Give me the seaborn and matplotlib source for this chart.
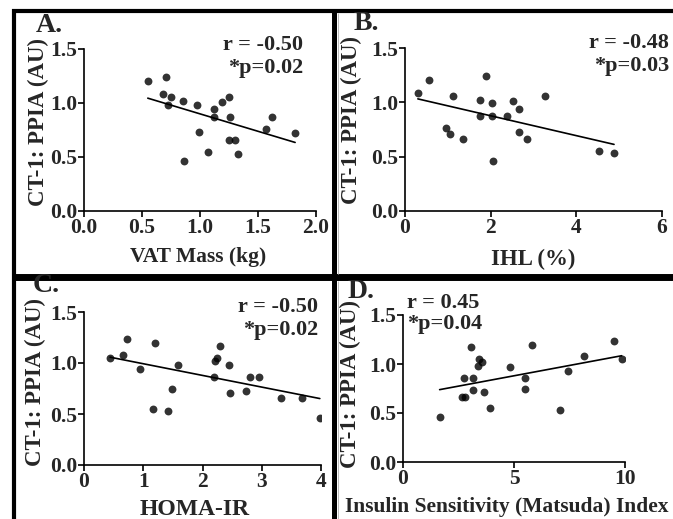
import matplotlib
matplotlib.use("Agg")
import matplotlib.pyplot as plt
from matplotlib.lines import Line2D
import numpy as np
import pandas as pd
import seaborn as sns

# panel A: VAT mass vs CT-1:PPIA
vat_mass = [0.55, 0.68, 0.71, 0.72, 0.75, 0.85, 0.86, 0.97, 0.99, 1.07, 1.12,
            1.12, 1.19, 1.25, 1.25, 1.26, 1.30, 1.33, 1.57, 1.62, 1.82]
ppia_a = [1.20, 1.08, 1.24, 0.98, 1.06, 1.02, 0.46, 0.98, 0.73, 0.55, 0.94,
          0.87, 1.01, 1.06, 0.66, 0.87, 0.66, 0.53, 0.76, 0.87, 0.72]

# panel B: IHL (%)
ihl = [0.30, 0.55, 0.95, 1.05, 1.11, 1.35, 1.75, 1.75, 1.89, 2.03, 2.04,
       2.05, 2.38, 2.53, 2.66, 2.66, 2.85, 3.27, 4.54, 4.88]
ppia_b = [1.09, 1.21, 0.76, 0.71, 1.06, 0.66, 1.02, 0.87, 1.24, 0.99, 0.87,
          0.46, 0.87, 1.01, 0.94, 0.73, 0.66, 1.06, 0.55, 0.53]

# panel C: HOMA-IR
homa = [0.44, 0.66, 0.73, 0.94, 1.17, 1.19, 1.41, 1.48, 1.58, 2.19, 2.21,
        2.24, 2.29, 2.44, 2.47, 2.73, 2.81, 2.95, 3.32, 3.68, 3.98]
ppia_c = [1.05, 1.08, 1.24, 0.94, 0.55, 1.20, 0.53, 0.75, 0.98, 0.86, 1.02,
          1.05, 1.17, 0.98, 0.71, 0.73, 0.86, 0.86, 0.66, 0.66, 0.46]

# panel D: Matsuda index
matsuda = [1.65, 2.65, 2.81, 2.74, 3.07, 3.17, 3.17, 3.40, 3.44, 3.55, 3.64,
           3.92, 4.84, 5.49, 5.49, 5.79, 7.08, 7.44, 8.16, 9.52, 9.85]
ppia_d = [0.46, 0.66, 0.66, 0.86, 1.17, 0.86, 0.73, 0.98, 1.05, 1.02, 0.71,
          0.55, 0.97, 0.86, 0.75, 1.19, 0.53, 0.93, 1.08, 1.23, 1.05]

panels = [
    dict(x=vat_mass, y=ppia_a, letter="A.", xlabel="VAT Mass (kg)",
         xlim=(0, 2), xticks=[0, 0.5, 1.0, 1.5, 2.0], xfmt="{:.1f}",
         r="r = -0.50", p="*p=0.02"),
    dict(x=ihl, y=ppia_b, letter="B.", xlabel="IHL (%)",
         xlim=(0, 6), xticks=[0, 2, 4, 6], xfmt="{:.0f}",
         r="r = -0.48", p="*p=0.03"),
    dict(x=homa, y=ppia_c, letter="C.", xlabel="HOMA-IR",
         xlim=(0, 4), xticks=[0, 1, 2, 3, 4], xfmt="{:.0f}",
         r="r = -0.50", p="*p=0.02"),
    dict(x=matsuda, y=ppia_d, letter="D.", xlabel="Insulin Sensitivity (Matsuda) Index",
         xlim=(0, 10), xticks=[0, 5, 10], xfmt="{:.0f}",
         r="r = 0.45", p="*p=0.04"),
]

sns.set_style("ticks")
plt.rcParams['font.family'] = ['Liberation Serif', 'DejaVu Serif']
plt.rcParams['font.weight'] = 'bold'
plt.rcParams['axes.labelweight'] = 'bold'

W, H = 673, 519
fig = plt.figure(figsize=(W / 100, H / 100), dpi=100)

# layout in pixels
boxes = [(84, 316, 49, 211), (405, 662, 48, 211),
         (84, 321, 312, 465), (403, 625, 315, 462)]   # left, right, top, bottom
stats_pos = [(303, 45, 68, 'right'), (669, 43, 66, 'right'),
             (318, 307, 330, 'right'), (407, 303, 324, 'left')]
letter_pos = [(36, 25), (354, 23), (33, 285), (348, 292)]
ylab_pos = [(49, 122), (362, 120), (46, 382), (361, 384)]   # right edge x, centre y
xlab_pos = [(198, 247), (533, 249), (195, 499), (507, 497)]  # centre x, top y
xlab_size = [15.5, 16.5, 17, 15.5]

for i, pan in enumerate(panels):
    l, r, t, b = boxes[i]
    ax = fig.add_axes([l / W, 1 - b / H, (r - l) / W, (b - t) / H])
    df = pd.DataFrame({"x": pan["x"], "y": pan["y"]})
    sns.regplot(data=df, x="x", y="y", ax=ax, ci=None, color="black",
                scatter_kws=dict(s=32, linewidths=0),
                line_kws=dict(linewidth=1.2))
    ax.set_xlim(pan["xlim"])
    ax.set_ylim(0, 1.5)
    ax.set_xticks(pan["xticks"])
    ax.set_xticklabels([pan["xfmt"].format(v) for v in pan["xticks"]])
    ax.set_yticks([0, 0.5, 1.0, 1.5])
    ax.set_yticklabels(["0.0", "0.5", "1.0", "1.5"])
    ax.tick_params(labelsize=15.5, width=1.2, length=4, color="black", pad=1)
    for lab in ax.get_xticklabels() + ax.get_yticklabels():
        lab.set_fontweight("bold")
    for s in ["left", "bottom"]:
        ax.spines[s].set_linewidth(1.2)
        ax.spines[s].set_color("black")
    sns.despine(ax=ax)
    ax.set_facecolor("none")

    ax.set_xlabel(pan["xlabel"], fontsize=xlab_size[i], fontweight="bold")
    ax.set_ylabel("CT-1: PPIA (AU)", fontsize=16.5, fontweight="bold")
    yx, yy = ylab_pos[i]
    ax.yaxis.set_label_coords((yx - l) / (r - l), (b - yy) / (b - t))
    xx, xy = xlab_pos[i]
    ax.xaxis.set_label_coords((xx - l) / (r - l), (b - xy) / (b - t))

    sx, ry, py, ha = stats_pos[i]
    fig.text(sx / W, 1 - ry / H, pan["r"], ha=ha, va="center",
             fontsize=16, fontweight="bold")
    fig.text(sx / W, 1 - py / H, pan["p"], ha=ha, va="center",
             fontsize=16, fontweight="bold")
    lx, ly = letter_pos[i]
    fig.text(lx / W, 1 - ly / H, pan["letter"], ha="left", va="center",
             fontsize=20, fontweight="bold")

# panel frames
def hline(y, x0, x1, lw):
    fig.add_artist(Line2D([x0 / W, x1 / W], [1 - y / H, 1 - y / H],
                          color="black", linewidth=lw, solid_capstyle="butt"))

def vline(x, y0, y1, lw, color="black"):
    fig.add_artist(Line2D([x / W, x / W], [1 - y0 / H, 1 - y1 / H],
                          color=color, linewidth=lw, solid_capstyle="butt"))

hline(11, 12, W, 3.0)
hline(277, 12, W, 5.0)
vline(14, 9, H, 3.0)
vline(333.5, 9, H, 3.6)
vline(337.5, 13, 274, 0.7, color="#bbbbbb")
vline(337.5, 281, H, 0.7, color="#bbbbbb")

fig.savefig("out.png", dpi=100)
